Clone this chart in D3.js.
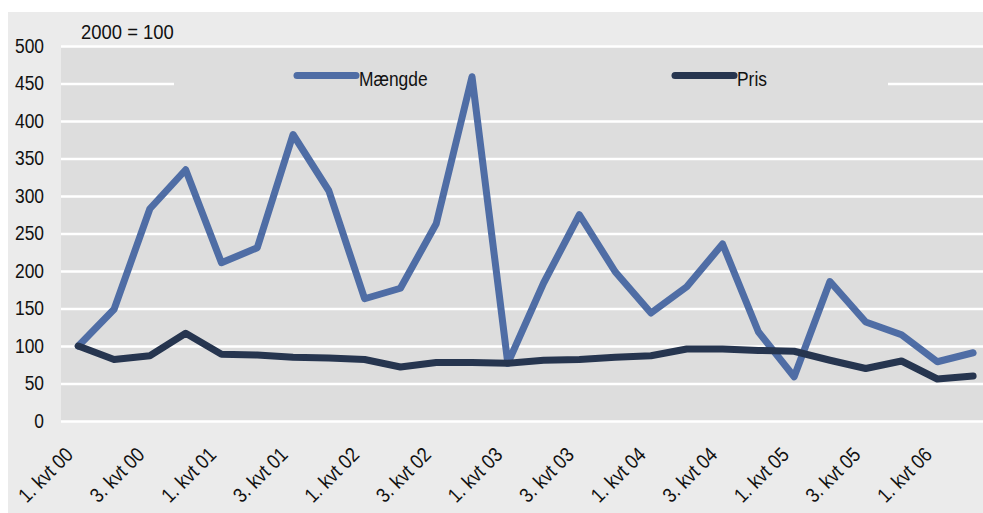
<!DOCTYPE html>
<html>
<head>
<meta charset="utf-8">
<script src="https://cdn.jsdelivr.net/npm/d3@7"></script>
<style>
  html, body { margin: 0; padding: 0; background: #fff; }
  svg { display: block; font-family: "Liberation Sans", Arial, sans-serif; }
</style>
</head>
<body>
<div id="chart"></div>
<script>
const quarters = ["00", "01", "02", "03", "04", "05", "06"];
const categories = [];
quarters.forEach(y => [1, 2, 3, 4].forEach(q => categories.push(`${q}. kvt ${y}`)));
categories.length = 26;

const maengde = [100, 149, 283, 335, 211, 231, 382, 307, 163, 177, 263, 459, 77,
                 184, 275, 199, 144, 179, 236, 119, 59, 186, 132, 115, 79, 91];
const pris = [100, 82, 87, 117, 89, 88, 85, 84, 82, 72, 78, 78, 77,
              81, 82, 85, 87, 96, 96, 94, 93, 81, 70, 80, 56, 60];
const yTicks = [0, 50, 100, 150, 200, 250, 300, 350, 400, 450, 500];
const seriesNames = ["Mængde", "Pris"];
const seriesColors = ["#4f6da5", "#26354f"];

const width = 983;
const height = 513;
const plot = { left: 61, right: 991, top: 46, bottom: 421 };
const squeeze = 0.87; // condensed look of the original font

const svg = d3.select("#chart")
  .append("svg")
  .attr("width", width)
  .attr("height", height);

// outer background
svg.append("rect")
  .attr("x", 8).attr("y", 12)
  .attr("width", width).attr("height", height)
  .attr("fill", "#ebebeb");

// plot background
svg.append("rect")
  .attr("x", plot.left).attr("y", plot.top)
  .attr("width", plot.right - plot.left).attr("height", plot.bottom - plot.top)
  .attr("fill", "#dddddd");

const x = d3.scaleBand()
  .domain(categories)
  .range([plot.left - 0.6, plot.right])
  .padding(0);

const y = d3.scaleLinear()
  .domain([0, 500])
  .range([plot.bottom, plot.top]);

const cx = d => x(d) + x.bandwidth() / 2;

// y axis with gridlines
const yAxis = svg.append("g")
  .attr("transform", `translate(${plot.left},0)`)
  .call(d3.axisLeft(y).tickValues(yTicks).tickSize(-(plot.right - plot.left)).tickPadding(17));
yAxis.select(".domain").remove();
yAxis.selectAll(".tick line").attr("stroke", "#fff").attr("stroke-width", 2.6);
yAxis.selectAll(".tick text")
  .attr("fill", "#111")
  .attr("x", -17 / squeeze)
  .attr("transform", `scale(${squeeze},1)`)
  .style("font-size", "20px");

// legend box (covers gridline)
svg.append("rect")
  .attr("x", 174).attr("y", 62)
  .attr("width", 888 - 174).attr("height", 36)
  .attr("fill", "#dddddd");

// lines, Pris on top
const line = d3.line()
  .x((d, i) => cx(categories[i]))
  .y(d => y(d));

[maengde, pris].forEach((s, i) => {
  svg.append("path")
    .datum(s)
    .attr("d", line)
    .attr("fill", "none")
    .attr("stroke", seriesColors[i])
    .attr("stroke-width", 7)
    .attr("stroke-linejoin", "round")
    .attr("stroke-linecap", "round");
});

// x labels (every other quarter)
svg.append("g")
  .selectAll("text")
  .data(categories.filter((d, i) => i % 2 === 0))
  .join("text")
  .attr("transform", d => `translate(${cx(d) - 4},${plot.bottom + 35}) rotate(-45) scale(${squeeze},1)`)
  .attr("text-anchor", "end")
  .attr("fill", "#111")
  .style("font-size", "20.5px")
  .text(d => d);

// legend
const legendX = [297, 675];
seriesNames.forEach((name, i) => {
  svg.append("line")
    .attr("x1", legendX[i]).attr("x2", legendX[i] + 59)
    .attr("y1", 75.5).attr("y2", 75.5)
    .attr("stroke", seriesColors[i])
    .attr("stroke-width", 7)
    .attr("stroke-linecap", "round");
  svg.append("text")
    .attr("transform", `translate(${legendX[i] + 62},86) scale(${squeeze},1)`)
    .attr("fill", "#111")
    .style("font-size", "20px")
    .text(name);
});

// unit label
svg.append("text")
  .attr("transform", `translate(81,39) scale(0.9,1)`)
  .attr("fill", "#111")
  .style("font-size", "20.5px")
  .text("2000 = 100");
</script>
</body>
</html>
